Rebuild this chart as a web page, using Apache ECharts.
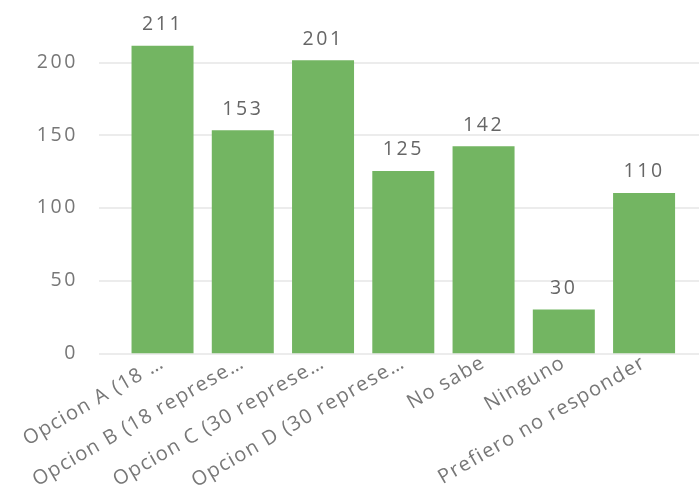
<!DOCTYPE html>
<html><head><meta charset="utf-8">
<script src="https://cdn.jsdelivr.net/npm/echarts@6/dist/echarts.min.js"></script>
<style>html,body{margin:0;padding:0;background:#fff}#c{width:699px;height:487px}</style>
</head><body><div id="c"></div>
<script>
var categories = ["Opcion A (18 …", "Opcion B (18 represe…", "Opcion C (30 represe…", "Opcion D (30 represe…", "No sabe", "Ninguno", "Prefiero no responder"];
var values = [211, 153, 201, 125, 142, 30, 110];
var yTicks = [0, 50, 100, 150, 200];

// letter spacing like the reference rendering (depends on the font size in use)
(function () {
  var P = CanvasRenderingContext2D.prototype;
  var ft = P.fillText, mt = P.measureText;
  function sp(ctx) {
    try { ctx.letterSpacing = /\b20px/.test(ctx.font) ? '1.4px' : (/19\.5px/.test(ctx.font) ? '2.6px' : '0px'); } catch (e) {}
  }
  P.fillText = function () { sp(this); return ft.apply(this, arguments); };
  P.measureText = function () { sp(this); return mt.apply(this, arguments); };
})();

var chart = echarts.init(document.getElementById('c'), null, {renderer: 'canvas'});
chart.setOption({
  animation: false,
  backgroundColor: '#ffffff',
  grid: [
    {left: 99, right: 0, top: 62.3, bottom: 133.7, containLabel: false, outerBoundsMode: 'none'},
    {left: 122.4, right: 14.8, top: 45.7, bottom: 133.7, containLabel: false, outerBoundsMode: 'none'}
  ],
  xAxis: [
    {gridIndex: 0, type: 'category', data: [''], show: false},
    {gridIndex: 1, type: 'category', data: categories,
     axisLine: {show: false}, axisTick: {show: false},
     axisLabel: {interval: 0, rotate: 30, margin: 8, color: '#777777', fontSize: 20, fontFamily: 'Open Sans'}}
  ],
  yAxis: [
    {gridIndex: 0, type: 'value', min: yTicks[0], max: yTicks[yTicks.length-1], interval: 50,
     axisLine: {show: false}, axisTick: {show: false},
     axisLabel: {margin: 21, color: '#777777', fontSize: 19.5, fontFamily: 'Open Sans'},
     splitLine: {lineStyle: {color: '#e6e6e6', width: 1.5}}},
    {gridIndex: 1, type: 'value', min: 0, max: 211, show: false, splitLine: {show: false}}
  ],
  series: [{
    type: 'bar', xAxisIndex: 1, yAxisIndex: 1, data: values, barWidth: 62,
    itemStyle: {color: '#73b562'},
    label: {show: true, position: 'top', distance: 10, color: '#666666', fontSize: 19.5, fontFamily: 'Open Sans'}
  }]
});
</script></body></html>
